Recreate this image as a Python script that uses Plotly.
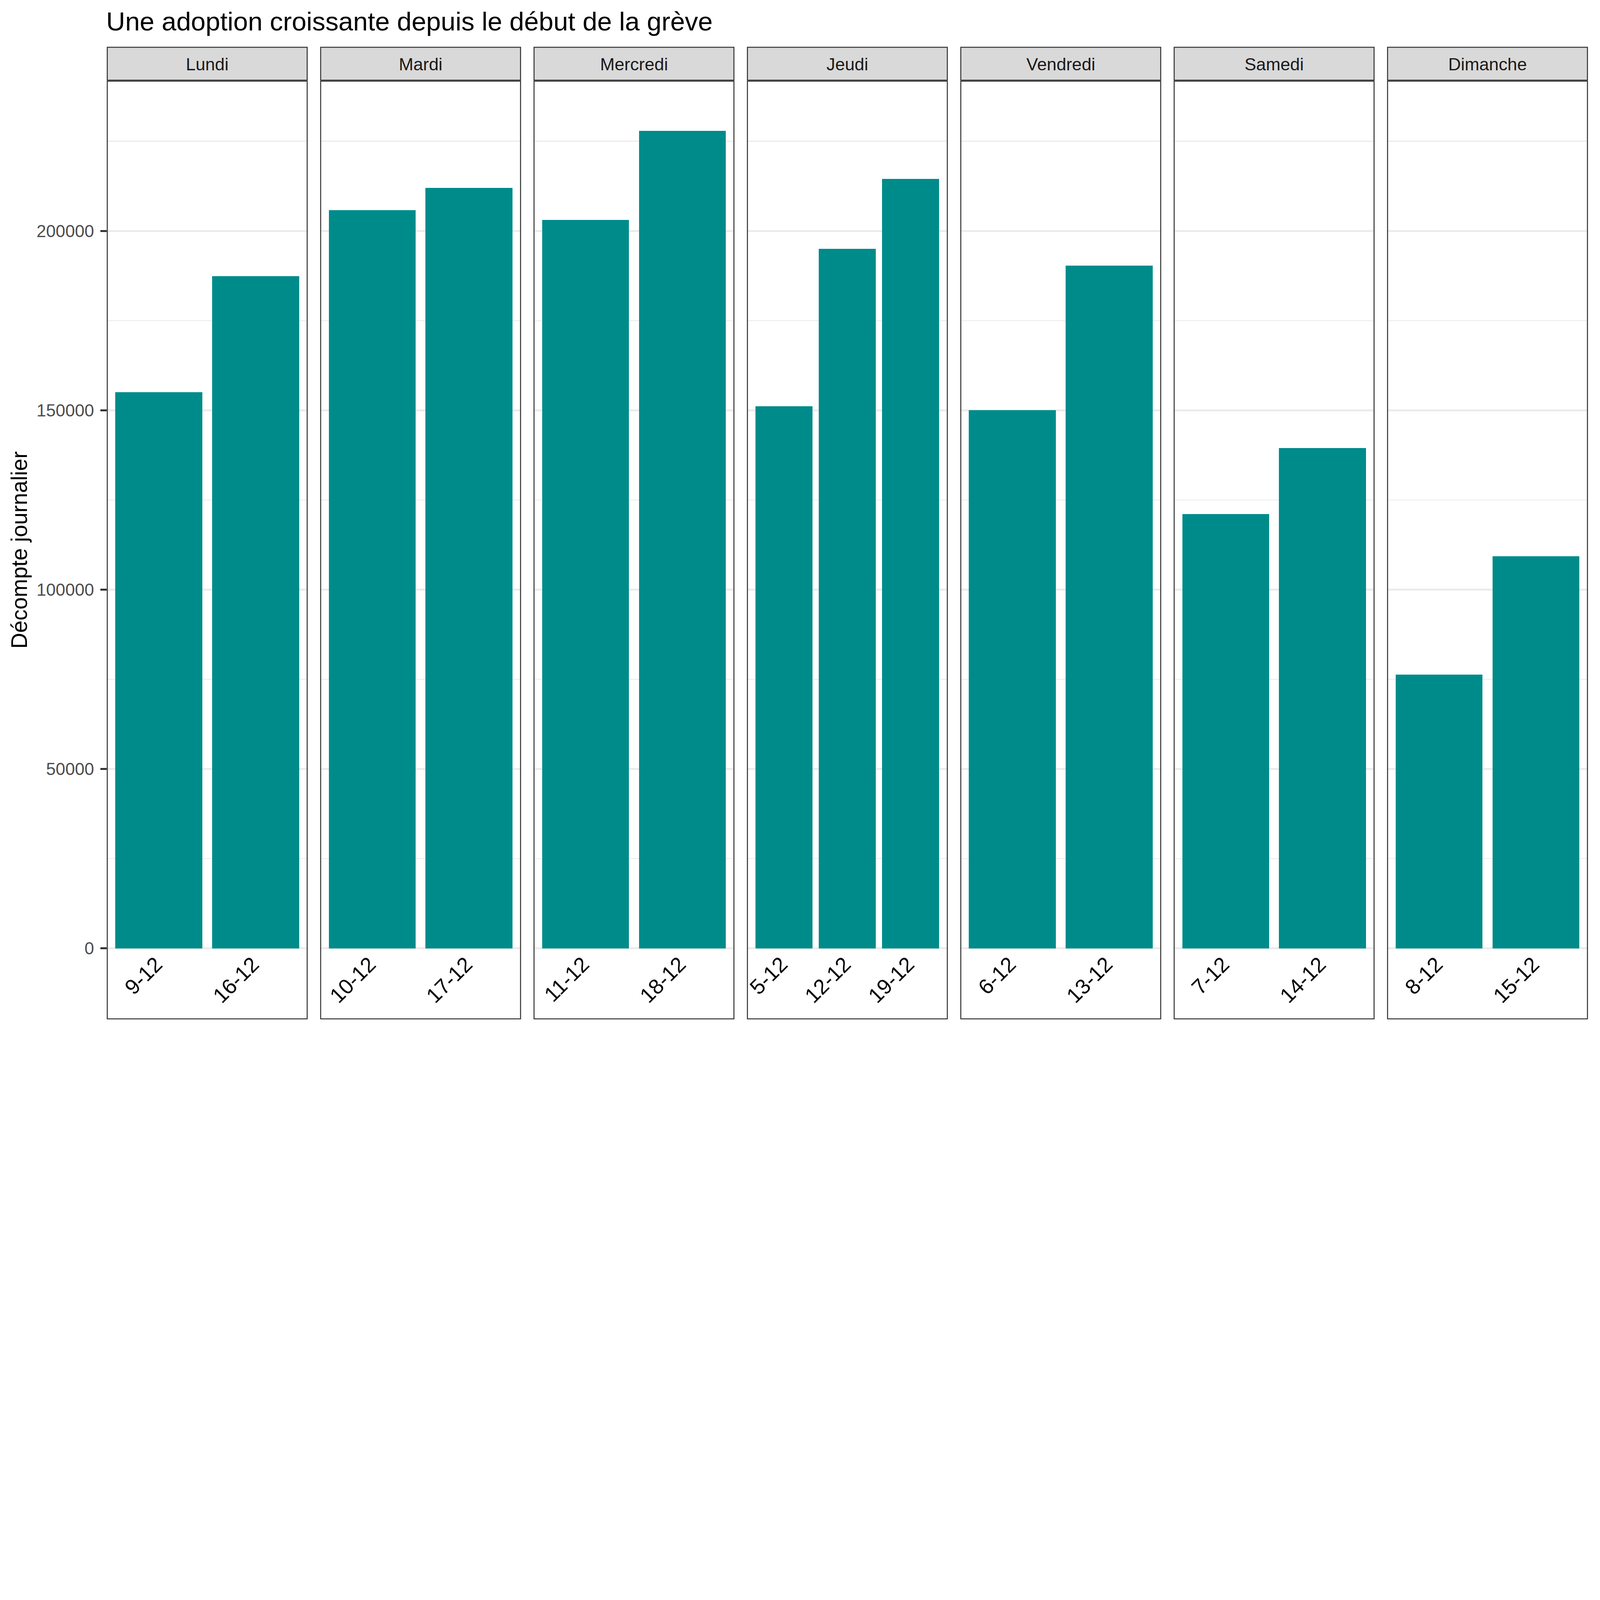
import plotly.graph_objects as go

# ---------------- data ----------------
days = ["Lundi", "Mardi", "Mercredi", "Jeudi", "Vendredi", "Samedi", "Dimanche"]
dates_lundi = ["9-12", "16-12"]
dates_mardi = ["10-12", "17-12"]
dates_mercredi = ["11-12", "18-12"]
dates_jeudi = ["5-12", "12-12", "19-12"]
dates_vendredi = ["6-12", "13-12"]
dates_samedi = ["7-12", "14-12"]
dates_dimanche = ["8-12", "15-12"]

counts_lundi = [155000, 187400]
counts_mardi = [205800, 212000]
counts_mercredi = [203100, 227900]
counts_jeudi = [151100, 195000, 214500]
counts_vendredi = [150000, 190300]
counts_samedi = [121100, 139500]
counts_dimanche = [76300, 109300]

y_tick_values = [0, 50000, 100000, 150000, 200000]
y_tick_labels = ["0", "50000", "100000", "150000", "200000"]
y_minor_values = [25000, 75000, 125000, 175000, 225000]

title_text = "Une adoption croissante depuis le début de la grève"
y_title_text = "Décompte journalier"

facet_dates = [dates_lundi, dates_mardi, dates_mercredi, dates_jeudi,
               dates_vendredi, dates_samedi, dates_dimanche]
facet_counts = [counts_lundi, counts_mardi, counts_mercredi, counts_jeudi,
                counts_vendredi, counts_samedi, counts_dimanche]

# ---------------- layout geometry (pixels) ----------------
W, H = 7972, 5137
L, R, T, B = 532, 7912, 402, 5079
STRIP_TOP = 233
PW, PH = R - L, B - T
n = len(days)
panel_w = 1001
gap = (PW - n * panel_w) / (n - 1)

FONT = "Liberation Sans, Arial, Helvetica, sans-serif"
BAR_COLOR = "#008B8B"
BORDER = "#333333"
LW = 5

def px_x(p):
    return (p - L) / PW

def px_y(p):
    return (B - p) / PH

y_range = [-19800, 241900]

fig = go.Figure()
shapes = []
annotations = []
layout_axes = {}

for i, (day, cats, vals) in enumerate(zip(days, facet_dates, facet_counts)):
    k = "" if i == 0 else str(i + 1)
    x0p = L + i * (panel_w + gap)
    x1p = x0p + panel_w
    dom = [(x0p - L) / PW, (x1p - L) / PW]
    fig.add_trace(go.Bar(
        x=cats, y=vals, width=0.9,
        marker=dict(color=BAR_COLOR, line=dict(width=0)),
        xaxis="x" + k, yaxis="y" + k, showlegend=False,
        hovertemplate="%{x}: %{y}<extra></extra>",
    ))
    nc = len(cats)
    pad = 0.54 if nc == 2 else 0.585
    layout_axes["xaxis" + k] = dict(
        domain=dom, anchor="y" + k, type="category",
        categoryorder="array", categoryarray=cats,
        range=[-pad, nc - 1 + pad],
        showgrid=False, zeroline=False, showline=False,
        showticklabels=False, ticks="", fixedrange=True,
    )
    yax = dict(
        domain=[0, 1], anchor="x" + k, range=y_range,
        showgrid=True, gridcolor="#EBEBEB", gridwidth=10,
        zeroline=False, showline=False,
        tickmode="array", tickvals=y_tick_values, ticktext=y_tick_labels,
        minor=dict(tickmode="array", tickvals=y_minor_values,
                   showgrid=True, gridcolor="#EBEBEB", gridwidth=5, ticks=""),
        fixedrange=True,
    )
    if i == 0:
        yax.update(ticks="outside", ticklen=30, tickwidth=10, tickcolor=BORDER,
                   showticklabels=True, ticklabelstandoff=15,
                   tickfont=dict(family=FONT, size=86, color="#4D4D4D"))
    else:
        yax.update(ticks="", showticklabels=False, matches="y")
    layout_axes["yaxis" + k] = yax

    # panel border
    shapes.append(dict(
        type="rect", xref="paper", yref="paper",
        x0=px_x(x0p + LW / 2), x1=px_x(x1p - LW / 2),
        y0=px_y(B - LW / 2), y1=px_y(T + LW / 2),
        line=dict(color=BORDER, width=LW), fillcolor="rgba(0,0,0,0)",
        layer="above",
    ))
    # facet strip
    shapes.append(dict(
        type="rect", xref="paper", yref="paper",
        x0=px_x(x0p + LW / 2), x1=px_x(x1p - LW / 2),
        y0=px_y(T - LW / 2), y1=px_y(STRIP_TOP + LW / 2),
        line=dict(color=BORDER, width=LW), fillcolor="#D9D9D9",
        layer="above",
    ))
    annotations.append(dict(
        text=day, xref="paper", yref="paper",
        x=px_x((x0p + x1p) / 2), y=px_y(319.5),
        xanchor="center", yanchor="middle", showarrow=False,
        font=dict(family=FONT, size=87, color="#1A1A1A"),
    ))
    # rotated date labels inside the panel, below the zero line
    for c in cats:
        annotations.append(dict(
            text=c, x=c, y=0, xref="x" + k, yref="y" + k,
            xanchor="right", yanchor="top", textangle=-45,
            xshift=42, yshift=-16, showarrow=False,
            font=dict(family=FONT, size=106, color="#000000"),
        ))

annotations.append(dict(
    text=y_title_text, xref="paper", yref="paper",
    x=px_x(96), y=0.5, xanchor="center", yanchor="middle",
    textangle=-90, showarrow=False,
    font=dict(family=FONT, size=110, color="#000000"),
))

fig.update_layout(
    width=W, height=H,
    margin=dict(l=L, r=W - R, t=T, b=H - B, autoexpand=False),
    paper_bgcolor="white", plot_bgcolor="white",
    bargap=0,
    title=dict(text=title_text, x=529 / W, xref="container", xanchor="left",
               y=1 - (151 - 0.35 * 131) / H, yref="container", yanchor="middle",
               font=dict(family=FONT, size=131, color="#000000")),
    shapes=shapes, annotations=annotations,
    font=dict(family=FONT),
    **layout_axes,
)

# keep the whole 7972x5137 figure visible if the window is smaller
post = (
    "document.documentElement.style.margin='0';"
    "document.body.style.margin='0';"
    "document.documentElement.style.overflow='hidden';"
    "document.body.style.overflow='hidden';"
    "var gd=document.getElementById('{plot_id}');"
    "function fitFig(){var s=Math.min(window.innerWidth/%d, window.innerHeight/%d, 1);"
    "gd.style.transformOrigin='0 0';gd.style.transform='scale('+s+')';}"
    "fitFig();window.addEventListener('resize', fitFig);" % (W, H)
)
fig.write_html("out.html", post_script=post,
               config={"displayModeBar": False, "responsive": False})
